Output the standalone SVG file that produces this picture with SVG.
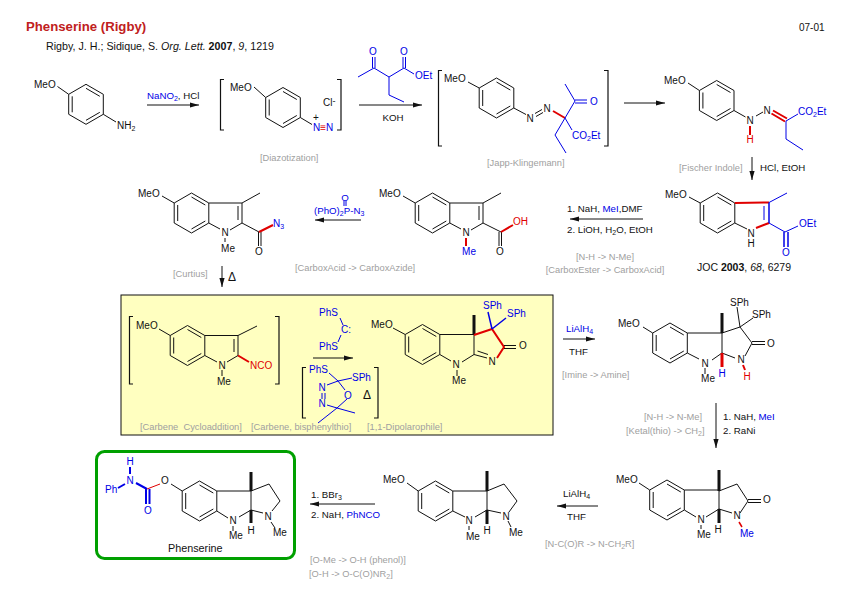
<svg xmlns="http://www.w3.org/2000/svg" width="854" height="599" viewBox="0 0 854 599">
<style>
text{font-family:"Liberation Sans",Arial,sans-serif;font-size:10px;fill:#111}
#labels text{font-size:9.7px}
#labels text.g{font-size:9.3px}
#labels text.d{font-size:12px}
.m{text-anchor:middle}
.g{fill:#a0a0a0;font-size:9.3px}
.bl{fill:#0000e6}
.rd{fill:#e00000}
.s{font-size:7px}
.k{fill:none;stroke:#111;stroke-width:1}
.u{fill:none;stroke:#0000e6;stroke-width:1}
.ub{fill:none;stroke:#0000e6;stroke-width:2}
.r{fill:none;stroke:#e00000;stroke-width:2}
.w{stroke:#111;stroke-width:3;fill:none}
.br{fill:none;stroke:#111;stroke-width:1.2}
.ar{stroke:#111;stroke-width:1;fill:none;marker-end:url(#h)}
</style>
<defs>
<marker id="h" markerUnits="userSpaceOnUse" markerWidth="10" markerHeight="6" refX="9" refY="3" orient="auto"><path d="M0 0.4L9 3L0 5.6Z" fill="#111"/></marker>
<g id="ring"><path class="k" d="M0-20L17.3-10V10L0 20L-17.3 10V-10Z"/><path class="k" d="M0-16L13.8-8M13.8 8L0 16M-13.8 8V-8"/></g>
</defs>
<rect width="854" height="599" fill="#fff"/>
<g id="header">
<text x="26" y="31" style="font-size:13.2px;font-weight:bold;fill:#c02020">Phenserine (Rigby)</text>
<text x="46" y="50" style="font-size:10.7px">Rigby, J. H.; Sidique, S. <tspan font-style="italic">Org. Lett.</tspan> <tspan font-weight="bold">2007</tspan>, <tspan font-style="italic">9</tspan>, 1219</text>
<text x="799" y="31">07-01</text>
</g>
<g id="yellow-box"><rect x="121" y="295" width="432" height="140" fill="#ffffc0" stroke="#111" stroke-width="1"/></g>
<g id="phenserine-box"><rect x="96.5" y="451.500" width="198" height="107" rx="8" fill="none" stroke="#00a000" stroke-width="3"/></g>

<g id="anisidine">
<use href="#ring" x="86" y="104.300"/>
<path class="k" d="M57.500 86.500L68.700 94.300M103.300 114.300L116 122"/>
<text x="34" y="88">MeO</text>
<text x="117" y="129">NH<tspan class="s" dy="2">2</tspan></text>
</g>

<g id="diazonium">
<path class="br" d="M224 79.500H220.500V130H224M337 79.500H341V130H337"/>
<use href="#ring" x="283" y="107.500"/>
<path class="k" d="M254 87L265.700 97.500M300.300 117.500L312 124.500"/>
<text x="230" y="91">MeO</text>
<text x="323" y="106">Cl<tspan style="font-size:9px" dy="-2">-</tspan></text>
<text x="316" y="121" class="m">+</text>
<text x="313" y="131" class="bl">N<tspan class="rd">≡</tspan>N</text>
</g>

<g id="ketoester">
<path class="u" d="M358 77L374 68L389 77L404 68L414 74M372.500 57V68M375 57V68M403 57V68M405.500 57V68M389 77V95L404 102"/>
<text x="373" y="55" class="m bl">O</text>
<text x="404" y="55" class="m bl">O</text>
<text x="415" y="79" class="bl">OEt</text>
</g>

<g id="azo">
<path class="br" d="M442 70.500H438.500V146H442M604 70.500H608V146H604"/>
<use href="#ring" x="496.500" y="98"/>
<path class="k" d="M468 82L479.200 88M513.800 108L526 114.500M535 113.500L542 109.500M536 116.500L543 112.500"/>
<path class="r" d="M553 111L565 118"/>
<path class="u" d="M565 118L575 101L565 84M575 100H587M575 103H587M565 118L572 130M565 118L555 135L566 153"/>
<text x="444" y="82">MeO</text>
<text x="530" y="122" class="m">N</text>
<text x="547" y="112" class="m">N</text>
<text x="594" y="105" class="m bl">O</text>
<text x="572" y="139" class="bl">CO<tspan class="s" dy="2">2</tspan><tspan dy="-2">Et</tspan></text>
</g>

<g id="hydrazone">
<use href="#ring" x="716.700" y="100.500"/>
<path class="k" d="M688 83L699.400 90.500M734 110.500L745.500 117M756 116L763 112"/>
<path class="r" d="M750 126V135M773 110.500L787 118.500M771.500 113.500L785 121.500"/>
<path class="u" d="M786 121L798 114M786 121V139L803 150"/>
<text x="664" y="84">MeO</text>
<text x="750" y="124" class="m">N</text>
<text x="750" y="143" class="m rd">H</text>
<text x="767" y="114" class="m">N</text>
<text x="798" y="115" class="bl">CO<tspan class="s" dy="2">2</tspan><tspan dy="-2">Et</tspan></text>
</g>

<g id="indole-ester">
<use href="#ring" x="717.500" y="213"/>
<path class="k" d="M689 197L700.200 203M734.800 223L747 229"/>
<path class="r" d="M734.800 203L769 202.500M756 228L769 223"/>
<path class="u" d="M769 202.500L787 193M769 223L785 232M785 232L798 226"/>
<path class="ub" d="M769 202.500V223" style="stroke-width:1.500"/>
<path class="u" d="M764 206V220"/>
<path class="ub" d="M784 232V247M788 232V247" style="stroke-width:1.500"/>
<text x="665" y="198">MeO</text>
<text x="751" y="237" class="m">N</text>
<text x="751" y="247" class="m">H</text>
<text x="786" y="256" class="m bl">O</text>
<text x="799" y="227" class="bl">OEt</text>
<text x="697" y="271" style="font-size:10.5px">JOC <tspan font-weight="bold">2003</tspan>, <tspan font-style="italic">68</tspan>, 6279</text>
</g>

<g id="acid">
<use href="#ring" x="432.500" y="213"/>
<path class="k" d="M403 196L415.200 203M449.800 203H483V223L501 232M483 203L501 193M479 206V220M449.800 223L461 229M471 230L483 223M499 232V246M501.500 232V246"/>
<path class="r" d="M466 238V246M501 232L513 225"/>
<text x="379" y="197">MeO</text>
<text x="466" y="236" class="m">N</text>
<text x="469" y="255" class="m bl">Me</text>
<text x="500" y="255" class="m">O</text>
<text x="513" y="225" class="rd">OH</text>
</g>

<g id="azide">
<use href="#ring" x="191.500" y="213"/>
<path class="k" d="M162 196L174.200 203M208.800 203H242V223L259 232M242 203L260 193M238 206V220M208.800 223L220 229M230 230L242 223M258.500 232V246M261 232V246M225 238V242"/>
<path class="r" d="M259 232L273 225"/>
<text x="138" y="197">MeO</text>
<text x="225" y="236" class="m">N</text>
<text x="228" y="252" class="m">Me</text>
<text x="259" y="255" class="m">O</text>
<text x="273" y="227" class="bl">N<tspan class="s" dy="2">3</tspan></text>
</g>

<g id="isocyanate">
<path class="br" d="M133 316.500H129.500V384H133M275 316.500H279V384H275"/>
<use href="#ring" x="187.500" y="345.500"/>
<path class="k" d="M159 329L170.200 335.500M204.800 335.500H238V355.500L227 362M238 335.500L257 326M234 339V352M204.800 355.500L217 362M222 370V376"/>
<path class="r" d="M238 355.500L249 362"/>
<text x="136" y="329">MeO</text>
<text x="222" y="369" class="m">N</text>
<text x="217" y="385">Me</text>
<text x="250" y="369" class="rd">NCO</text>
</g>

<g id="carbene">
<path class="u" d="M340 318L343 325M341 335L338 342"/>
<text x="319" y="316" class="bl">PhS</text>
<text x="341" y="333" class="bl">C:</text>
<text x="319" y="350" class="bl">PhS</text>
</g>

<g id="oxadiazoline">
<path class="br" d="M306 367.500H302.500V418H306M374 367.500H378V418H374"/>
<path class="u" d="M329 373L338 381L352 378M327 385L338 381L345 390M347 399L337 408L327 405M337 408L355 413M337 408L318 423M322 393V399M325 393V399"/>
<text x="309" y="373" class="bl">PhS</text>
<text x="352" y="381" class="bl">SPh</text>
<text x="322" y="391" class="m bl">N</text>
<text x="322" y="407" class="m bl">N</text>
<text x="348" y="399" class="m bl">O</text>
<text x="367" y="399" class="m" style="font-size:12px">Δ</text>
</g>

<g id="cycloadduct">
<use href="#ring" x="422.500" y="344.500"/>
<path class="k" d="M393 328L405.200 334.500M439.800 334.500H474V354.500L487 358M477.500 351L488 354.500M439.800 354.500L451 361M462 362L474 354.500M457 370V376"/>
<path class="w" d="M474 335V315"/>
<path class="r" d="M474 335L492 329L504 347L497 358"/>
<path class="k" d="M504 345.500H516M504 348.500H516"/>
<path class="ub" d="M492 329L488 312M492 329L506 318" style="stroke-width:1.500"/>
<text x="371" y="328">MeO</text>
<text x="483" y="309" class="bl">SPh</text>
<text x="507" y="317" class="bl">SPh</text>
<text x="523" y="349" class="m">O</text>
<text x="492" y="365" class="m">N</text>
<text x="456" y="368" class="m">N</text>
<text x="459" y="384" class="m">Me</text>
</g>

<g id="amine">
<use href="#ring" x="670" y="343"/>
<path class="k" d="M643 327L652.700 333M687.300 333H722V353L735 358M722 333L740 327L752 343L745 356M737 307L740 327L753 318M752 341.500H765M752 344.500H765M687.300 353L699 359M712 360L722 353M705 368V374"/>
<path class="w" d="M722 333V313"/>
<path class="r" d="M722 353V367" style="stroke-width:3"/>
<path class="r" d="M743 365L745 370"/>
<text x="618" y="327">MeO</text>
<text x="730" y="306">SPh</text>
<text x="752" y="318">SPh</text>
<text x="771" y="347" class="m">O</text>
<text x="741" y="363" class="m">N</text>
<text x="705" y="367" class="m">N</text>
<text x="708" y="382" class="m">Me</text>
<text x="722" y="377" class="m bl">H</text>
<text x="747" y="380" class="m rd">H</text>
</g>

<g id="lactam">
<use href="#ring" x="667" y="500"/>
<path class="k" d="M639 483L649.700 490M684.300 490H719V509L732 513M719 491L737 484L748 501L740 513M748 499.500H761M748 502.500H761M684.300 510L696 517M706 517L719 509M701 525V529"/>
<path class="w" d="M719 491V470M719 509V523"/>
<path class="r" d="M739 522L742 527" style="stroke-width:1.500"/>
<text x="616" y="483">MeO</text>
<text x="767" y="503" class="m">O</text>
<text x="737" y="519" class="m">N</text>
<text x="701" y="523" class="m">N</text>
<text x="697" y="538">Me</text>
<text x="718" y="533" class="m">H</text>
<text x="740" y="537" class="bl">Me</text>
</g>

<g id="pyrrolidine">
<use href="#ring" x="435.500" y="501"/>
<path class="k" d="M407 483L418.200 491M452.800 491H487V510L501 513M487 491L504 484L517 501L509 512M452.800 511L465 517M475 517L487 510M469 526V530M508 521L511 527"/>
<path class="w" d="M487 491V471M487 510V524"/>
<text x="383" y="483">MeO</text>
<text x="506" y="520" class="m">N</text>
<text x="469" y="524" class="m">N</text>
<text x="466" y="540">Me</text>
<text x="487" y="534" class="m">H</text>
<text x="509" y="536">Me</text>
</g>

<g id="phenserine">
<use href="#ring" x="199.500" y="501"/>
<path class="k" d="M171 484L182.200 491M216.800 491H251V510L263 513M251 491L269 484L280 501L272 511M216.800 511L228 518M239 517L251 510M233 526V531M271 522L275 528"/>
<path class="w" d="M251 491V472M251 510V523"/>
<path class="r" d="M147 489L160 484" style="stroke-width:1"/>
<path class="ub" d="M130 467V474M118 488L125 484M136 483L147 489M146 489V504M149.500 489V504"/>
<text x="130" y="465" class="m bl">H</text>
<text x="130" y="484" class="m bl">N</text>
<text x="105" y="493" class="bl">Ph</text>
<text x="165" y="484" class="m">O</text>
<text x="148" y="514" class="m bl">O</text>
<text x="268" y="520" class="m">N</text>
<text x="233" y="524" class="m">N</text>
<text x="229" y="539">Me</text>
<text x="251" y="534" class="m">H</text>
<text x="273" y="536">Me</text>
<text x="168" y="552" style="font-size:10.8px">Phenserine</text>
</g>

<g id="connectors">
<path class="ar" d="M147 105H199"/>
<path class="ar" d="M359 105H422"/>
<path class="ar" d="M624 103H665"/>
<path class="ar" d="M752 157V180"/>
<path class="ar" d="M643 219H570"/>
<path class="ar" d="M361 220H315"/>
<path class="ar" d="M222 266V287"/>
<path class="ar" d="M313 358H353"/>
<path class="ar" d="M563 339H595"/>
<path class="ar" d="M716 403V448"/>
<path class="ar" d="M598 506H557"/>
<path class="ar" d="M375 504H310"/>
</g>

<g id="labels">
<text x="147" y="99"><tspan class="bl">NaNO<tspan class="s" dy="2">2</tspan></tspan><tspan dy="-2">, HCl</tspan></text>
<text x="393" y="121" class="m">KOH</text>
<text x="260" y="161" class="g">[Diazotization]</text>
<text x="487" y="166" class="g">[Japp-Klingemann]</text>
<text x="679" y="171" class="g">[Fischer Indole]</text>
<text x="760" y="171">HCl, EtOH</text>
<text x="567" y="212">1. NaH, <tspan class="bl">MeI</tspan>,DMF</text>
<text x="567" y="233">2. LiOH, H<tspan class="s" dy="2">2</tspan><tspan dy="-2">O, EtOH</tspan></text>
<text x="605" y="260" class="g m">[N-H -&gt; N-Me]</text>
<text x="605" y="273" class="g m">[CarboxEster -&gt; CarboxAcid]</text>
<text x="314" y="214" class="bl">(PhO)<tspan class="s bl" dy="2">2</tspan><tspan class="bl" dy="-2">P-N</tspan><tspan class="s bl" dy="2">3</tspan></text>
<text x="345" y="201" class="m bl">O</text>
<path class="u" d="M344 201V206M346 201V206"/>
<text x="295" y="271" class="g">[CarboxAcid -&gt; CarboxAzide]</text>
<text x="173" y="277" class="g">[Curtius]</text>
<text x="228" y="281" class="d">Δ</text>
<text x="140" y="430" class="g" xml:space="preserve">[Carbene  Cycloaddition]</text>
<text x="251" y="430" class="g">[Carbene, bisphenylthio]</text>
<text x="367" y="430" class="g">[1,1-Dipolarophile]</text>
<text x="566" y="332" class="bl">LiAlH<tspan class="s bl" dy="2">4</tspan></text>
<text x="569" y="355">THF</text>
<text x="562" y="378" class="g">[Imine -&gt; Amine]</text>
<text x="644" y="420" class="g">[N-H -&gt; N-Me]</text>
<text x="626" y="434" class="g">[Ketal(thio) -&gt; CH<tspan class="s g" dy="2">2</tspan><tspan class="g" dy="-2">]</tspan></text>
<text x="723" y="420">1. NaH, <tspan class="bl">MeI</tspan></text>
<text x="723" y="434">2. RaNi</text>
<text x="563" y="497">LiAlH<tspan class="s" dy="2">4</tspan></text>
<text x="567" y="520">THF</text>
<text x="545" y="547" class="g">[N-C(O)R -&gt; N-CH<tspan class="s g" dy="2">2</tspan><tspan class="g" dy="-2">R]</tspan></text>
<text x="311" y="498">1. BBr<tspan class="s" dy="2">3</tspan></text>
<text x="311" y="518">2. NaH, <tspan class="bl">PhNCO</tspan></text>
<text x="310" y="563" class="g">[O-Me -&gt; O-H (phenol)]</text>
<text x="309" y="577" class="g">[O-H -&gt; O-C(O)NR<tspan class="s g" dy="2">2</tspan><tspan class="g" dy="-2">]</tspan></text>
</g>
</svg>
